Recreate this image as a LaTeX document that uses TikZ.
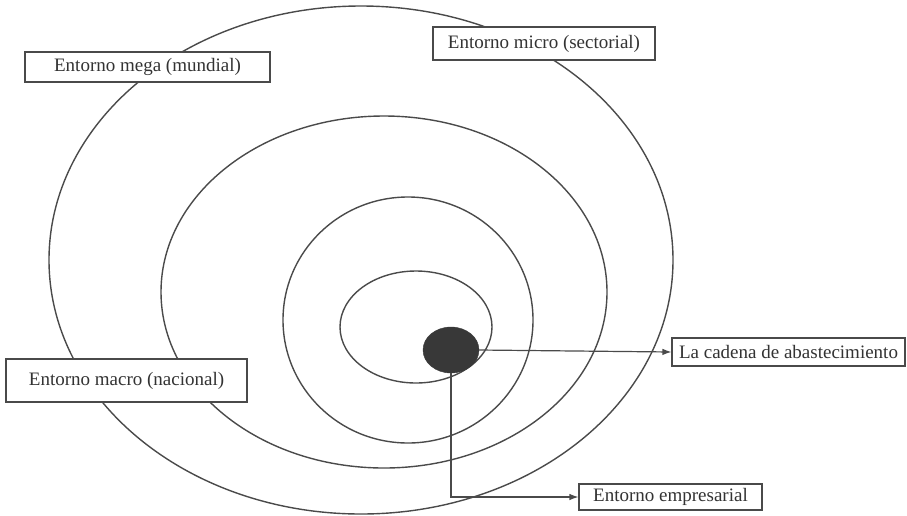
\documentclass[tikz,border=0pt]{standalone}
\usepackage{fontspec}
\setmainfont{Liberation Serif}
\usetikzlibrary{arrows.meta,shapes.geometric}
\definecolor{ink}{HTML}{4A4A4A}
\definecolor{txt}{HTML}{333333}
\definecolor{blobc}{HTML}{383838}
\tikzset{
  ring/.style={draw=ink, line width=1.4pt},
  labelbox/.style={draw=ink, line width=1.1pt, fill=white, text=txt, inner sep=0pt,
    font=\fontsize{19}{21}\selectfont},
  conn/.style={draw=ink, line width=1.2pt},
  arr/.style={conn, -{Latex[length=9pt,width=6.5pt]}}
}
\begin{document}
\begin{tikzpicture}[x=1pt,y=-1pt]
\useasboundingbox (0,0) rectangle (907,515);
% concentric environments
\draw[ring] (361,260) ellipse [x radius=312pt, y radius=254pt];
\draw[ring] (384,292) ellipse [x radius=223pt, y radius=176pt];
\draw[ring] (408,320) ellipse [x radius=125pt, y radius=123pt];
\draw[ring] (416,327) ellipse [x radius=76pt, y radius=56pt];
% supply chain blob
\node[ellipse, fill=blobc, draw=blobc, minimum width=56pt, minimum height=46pt, inner sep=0pt] (blob) at (451,350) {};
% labels
\node[labelbox, minimum width=245pt, minimum height=30pt] (mega) at (147.5,67) {Entorno mega (mundial)};
\node[labelbox, minimum width=222pt, minimum height=33pt] (micro) at (544,43.5) {Entorno micro (sectorial)};
\node[labelbox, minimum width=241pt, minimum height=43pt] (macro) at (126.5,380.5) {Entorno macro (nacional)};
\node[labelbox, minimum width=233pt, minimum height=28pt] (cadena) at (788.5,352) {La cadena de abastecimiento};
\node[labelbox, minimum width=183pt, minimum height=26pt] (emp) at (670.5,497) {Entorno empresarial};
% connectors
\draw[arr] (blob.east) -- (cadena.west);
\draw[arr] (blob.south) |- (emp.west);
\end{tikzpicture}
\end{document}
